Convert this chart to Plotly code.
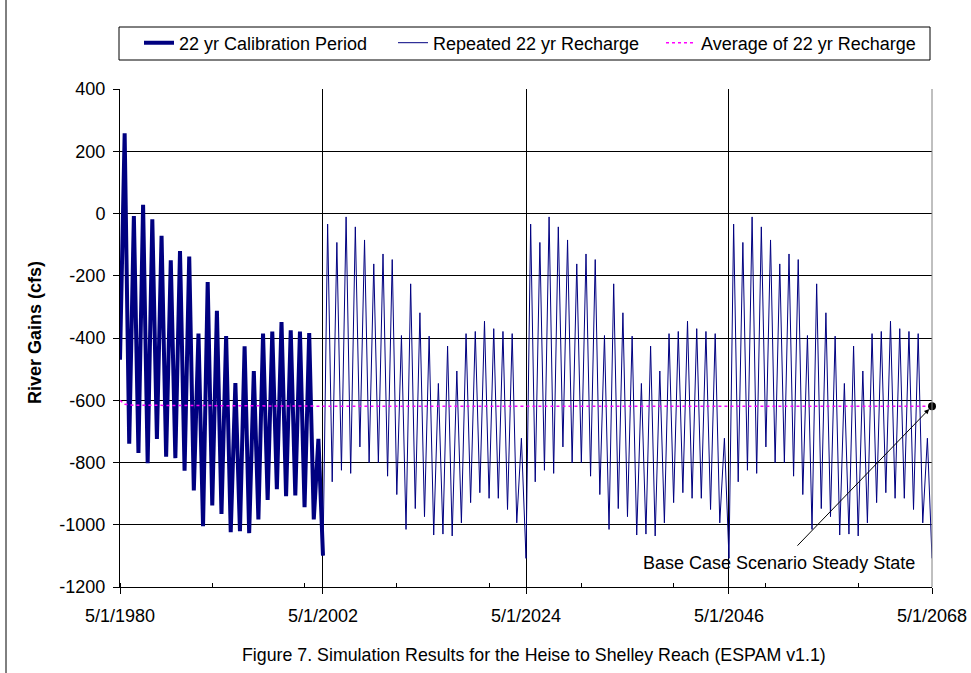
import plotly.graph_objects as go

# ---- data (cfs), semiannual stress periods: peaks in November, troughs in May ----
calib_start = -470
calib_peaks = [258, -8, 28, -19, -72, -150, -121, -138, -386, -220, -313, -394,
               -545, -427, -506, -386, -379, -349, -375, -379, -384, -724]
calib_troughs = [-740, -769, -802, -724, -781, -786, -826, -890, -1005, -938, -965,
                 -1024, -1021, -1027, -983, -920, -886, -908, -906, -944, -983, -1099]

rep_peaks = [-34, -93, -11, -43, -85, -162, -130, -148, -392, -226, -319, -394,
             -546, -426, -506, -386, -379, -346, -370, -379, -386, -722]
rep_troughs = [-862, -825, -835, -750, -801, -801, -844, -903, -1015, -948, -974,
               -1033, -1030, -1036, -994, -929, -897, -915, -915, -951, -994, -1108]
rep_start_years = [2002, 2024, 2046]

avg_dates = ["1980-05-01", "1980-11-01", "1981-11-01", "1990-05-01", "2002-05-01", "2068-05-01"]
avg_values = [-600, -613, -616, -618, -619, -619]

steady_date = "2068-05-01"
steady_value = -619

tick_dates = ["1980-05-01", "2002-05-01", "2024-05-01", "2046-05-01", "2068-05-01"]
tick_text = ["5/1/1980", "5/1/2002", "5/1/2024", "5/1/2046", "5/1/2068"]
y_ticks = [400, 200, 0, -200, -400, -600, -800, -1000, -1200]


def cycle(start_year, peaks, troughs):
    xs, ys = [], []
    for i, (p, t) in enumerate(zip(peaks, troughs)):
        xs += [f"{start_year + i}-11-01", f"{start_year + i + 1}-05-01"]
        ys += [p, t]
    return xs, ys


cx, cy = cycle(1980, calib_peaks, calib_troughs)
calib_x = ["1980-05-01"] + cx
calib_y = [calib_start] + cy

rep_x = ["2002-05-01"]
rep_y = [calib_troughs[-1]]
for yr in rep_start_years:
    rx, ry = cycle(yr, rep_peaks, rep_troughs)
    rep_x += rx
    rep_y += ry

NAVY = "#000080"
FONT = "Arial, 'Liberation Sans', sans-serif"

fig = go.Figure()
fig.add_trace(go.Scatter(x=calib_x, y=calib_y, mode="lines", name="22 yr Calibration Period",
                         line=dict(color=NAVY, width=4), legendwidth=209))
fig.add_trace(go.Scatter(x=rep_x, y=rep_y, mode="lines", name="Repeated 22 yr Recharge",
                         line=dict(color=NAVY, width=1), legendwidth=223))
fig.add_trace(go.Scatter(x=avg_dates, y=avg_values, mode="lines", name="Average of 22 yr Recharge",
                         line=dict(color="#FF00FF", width=1.5, dash="dot")))
fig.add_trace(go.Scatter(x=[steady_date], y=[steady_value], mode="markers", showlegend=False,
                         marker=dict(color="black", size=8), cliponaxis=False))

W, H = 971, 673
L, R, T, B = 120, 39, 89, 86
pw, ph = W - L - R, H - T - B


def px(xp):
    return (xp - L) / pw


def py(yp):
    return (H - B - yp) / ph


fig.update_layout(
    width=W, height=H,
    margin=dict(l=L, r=R, t=T, b=B),
    paper_bgcolor="white", plot_bgcolor="white",
    font=dict(family=FONT, size=18, color="black"),
    showlegend=True,
    legend=dict(orientation="h", x=px(139), y=py(43), xanchor="left", yanchor="middle",
                bgcolor="rgba(0,0,0,0)", borderwidth=0,
                font=dict(family=FONT, size=18, color="black")),
    xaxis=dict(type="date", range=["1980-05-01", "2068-05-01"], automargin=False,
               tickmode="array", tickvals=tick_dates, ticktext=tick_text,
               showgrid=True, gridcolor="black", gridwidth=1,
               showline=True, linecolor="black", linewidth=1,
               ticks="outside", ticklen=6, tickcolor="black", ticklabelstandoff=6,
               tickfont=dict(size=18),
               minor=dict(dtick="M120", tick0="1980-05-01", ticks="inside", ticklen=4,
                          tickcolor="black", showgrid=False),
               zeroline=False),
    yaxis=dict(range=[-1200, 400], automargin=False,
               tickmode="array", tickvals=y_ticks, ticktext=[str(v) for v in y_ticks],
               showgrid=True, gridcolor="black", gridwidth=1,
               showline=True, linecolor="black", linewidth=1,
               ticks="outside", ticklen=6, tickcolor="black", ticklabelstandoff=4,
               tickfont=dict(size=18), zeroline=False),
    shapes=[
        # legend frame
        dict(type="rect", xref="paper", yref="paper", x0=px(119), x1=px(930),
             y0=py(60), y1=py(27), line=dict(color="black", width=1)),
        # plot area right edge
        dict(type="line", xref="paper", yref="paper", x0=1, x1=1, y0=0, y1=1,
             line=dict(color="#808080", width=1)),
        # outer frame on the left
        dict(type="line", xref="paper", yref="paper", x0=px(6), x1=px(6),
             y0=py(673), y1=py(0), line=dict(color="black", width=1)),
    ],
    annotations=[
        dict(text="<b>River Gains (cfs)</b>", xref="paper", yref="paper",
             x=px(35), y=py(333), xanchor="center", yanchor="middle",
             textangle=-90, showarrow=False, font=dict(size=18)),
        dict(text="Figure 7. Simulation Results for the Heise to Shelley Reach (ESPAM v1.1)",
             xref="paper", yref="paper", x=px(534), y=py(655),
             xanchor="center", yanchor="middle", showarrow=False, font=dict(size=17.8)),
        dict(text="", x=steady_date, y=steady_value, xref="x", yref="y",
             showarrow=True, ax=-136, ay=141, arrowhead=2, arrowsize=1,
             arrowwidth=1, arrowcolor="black", standoff=4),
        dict(text="Base Case Scenario Steady State", xref="paper", yref="paper",
             x=px(779), y=py(563), xanchor="center", yanchor="middle",
             showarrow=False, font=dict(size=18)),
    ],
)

fig.write_html("out.html")
